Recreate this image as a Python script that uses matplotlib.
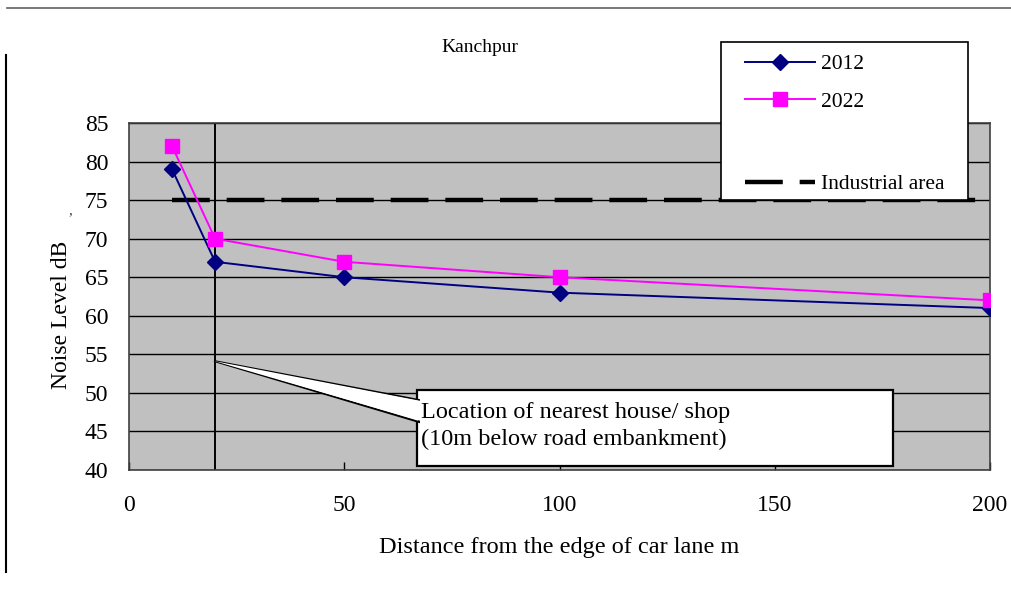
import matplotlib
matplotlib.use("Agg")
import matplotlib.pyplot as plt
from matplotlib.lines import Line2D
from matplotlib.patches import Polygon, Rectangle

# ---- data ----
distance = [10, 20, 50, 100, 200]
noise_2012 = [79, 67, 65, 63, 61]
noise_2022 = [82, 70, 67, 65, 62]
industrial_limit = 75
industrial_x = [10, 200]
house_distance = 20
x_ticks = [0, 50, 100, 150, 200]
y_ticks = [40, 45, 50, 55, 60, 65, 70, 75, 80, 85]

plt.rcParams['font.family'] = ['Liberation Serif', 'DejaVu Serif']

W, H = 1011, 596
fig = plt.figure(figsize=(W / 100, H / 100), dpi=100)
fig.patch.set_facecolor('white')

L, R, T, B = 129, 990, 123, 470
ax = fig.add_axes([L / W, 1 - B / H, (R - L) / W, (B - T) / H])
ax.set_facecolor('#c0c0c0')
ax.set_xlim(0, 200)
ax.set_ylim(40, 85)
ax.set_xticks(x_ticks)
ax.set_yticks(y_ticks)
ax.tick_params(axis='x', direction='in', length=6, width=1, labelsize=17, pad=18)
ax.tick_params(axis='y', length=0, labelsize=17, pad=15)
for s in ax.spines.values():
    s.set_color('#404040')
    s.set_linewidth(1.2)
ax.yaxis.grid(True, color='black', linewidth=1.0)
ax.set_axisbelow(True)

# vertical marker for nearest house
ax.axvline(house_distance, color='black', linewidth=1.4, zorder=2)

# industrial area limit
ln_ind, = ax.plot(industrial_x, [industrial_limit] * len(industrial_x), color='black',
                  linewidth=3.2, dashes=(8.5, 3.8), dash_capstyle='butt', zorder=3,
                  label='Industrial area')

ln12, = ax.plot(distance, noise_2012, color='#000080', marker='D', markersize=8,
                markerfacecolor='#000080', markeredgecolor='#000080', linewidth=1.4,
                zorder=4, label='2012')
ln22, = ax.plot(distance, noise_2022, color='#ff00ff', marker='s', markersize=10,
                markerfacecolor='#ff00ff', markeredgecolor='#ff00ff', linewidth=1.4,
                zorder=4, label='2022')

# callout box (pixel layout converted to data coords)
def px2d(px, py):
    return ((px - L) / (R - L) * 200, 40 + (B - py) / (B - T) * 45)

bx0, by0 = px2d(417, 466)
bx1, by1 = px2d(893, 390)
ax.add_patch(Rectangle((bx0, by0), bx1 - bx0, by1 - by0, facecolor='white',
                       edgecolor='black', linewidth=1.6, zorder=5))
tip = px2d(214, 361)
w1 = px2d(419, 400)
w2 = px2d(419, 422)
ax.add_patch(Polygon([tip, w1, w2], closed=True, facecolor='white',
                     edgecolor='black', linewidth=1.4, zorder=5))
ax.add_patch(Polygon([tip, px2d(421, 401), px2d(421, 421)], closed=True,
                     facecolor='white', edgecolor='none', zorder=6))
tx, ty = px2d(421, 426)
ax.text(tx, ty, 'Location of nearest house/ shop\n(10m below road embankment)',
        fontsize=17.5, va='center', ha='left', zorder=7, linespacing=1.4)

ax.set_xlabel('Distance from the edge of car lane m', fontsize=17.5)
ax.xaxis.set_label_coords(0.5, -0.193)
ax.set_ylabel('Noise Level dB', fontsize=17)
ax.yaxis.set_label_coords((72 - L) / (R - L), (B - 315) / (B - T))
fig.text(70 / W, 1 - 211 / H, ',', fontsize=11, ha='center', va='center', color='#444444')

fig.text(480 / W, 1 - 47 / H, 'Kanchpur', fontsize=14, ha='center', va='center')

# legend box
fig.add_artist(Rectangle((721 / W, 1 - 200 / H), 247 / W, 158 / H, transform=fig.transFigure,
                         facecolor='white', edgecolor='black', linewidth=1.2, zorder=3))
leg_kw = dict(loc='upper left', fontsize=15.5, frameon=False, handlelength=3.25,
              labelspacing=0.82, borderpad=0, handletextpad=0.3, borderaxespad=0)
leg1 = fig.legend([ln12, ln22], ['2012', '2022'],
                  bbox_to_anchor=(745 / W, 1 - 54 / H), **leg_kw)
leg1.set_zorder(6)
leg2 = fig.legend([ln_ind], ['Industrial area'],
                  bbox_to_anchor=(745 / W, 1 - 174 / H), **leg_kw)
leg2.set_zorder(6)

# outer frame lines
fig.add_artist(Line2D([7 / W, 1], [1 - 8 / H, 1 - 8 / H], color='#606060', linewidth=1.2))
fig.add_artist(Line2D([6 / W, 6 / W], [1 - 55 / H, 1 - 572 / H], color='black', linewidth=1.5))

fig.savefig('out.png', dpi=100)
